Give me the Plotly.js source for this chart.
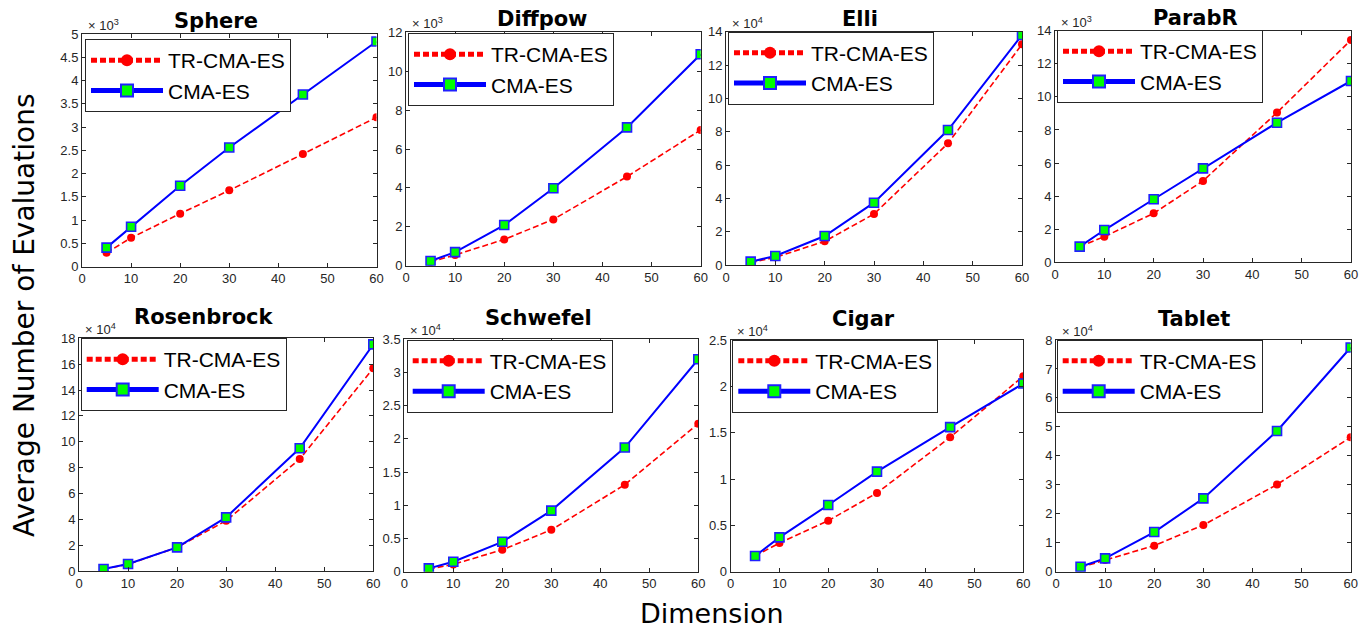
<!DOCTYPE html>
<html><head><meta charset="utf-8">
<script src="https://cdn.plot.ly/plotly-3.0.1.min.js"></script>
<style>html,body{margin:0;padding:0;background:#fff}</style>
</head><body><div id="chart" style="width:1359px;height:628px"></div>
<script>
// ---- data ----
const dims = [5, 10, 20, 30, 45, 60];
const functionNames = ['Sphere', 'Diffpow', 'Elli', 'ParabR', 'Rosenbrock', 'Schwefel', 'Cigar', 'Tablet'];
const seriesNames = ['TR-CMA-ES', 'CMA-ES'];
const scaleExponents = [3, 3, 4, 3, 4, 4, 4, 4];
const sphereTR = [300, 620, 1140, 1640, 2420, 3210];
const sphereCMA = [410, 860, 1740, 2560, 3700, 4840];
const diffpowTR = [200, 550, 1350, 2380, 4580, 6980];
const diffpowCMA = [240, 700, 2090, 3980, 7110, 10870];
const elliTR = [1400, 4600, 14200, 30600, 73000, 132400];
const elliCMA = [2000, 5400, 17400, 37400, 81000, 138000];
const parabrTR = [950, 1550, 2960, 4920, 9050, 13440];
const parabrCMA = [950, 1950, 3810, 5680, 8440, 10960];
const rosenTR = [1500, 5200, 18300, 38900, 86600, 156800];
const rosenCMA = [1500, 5400, 18300, 41500, 94900, 175300];
const schwefelTR = [400, 1100, 3300, 6300, 13100, 22300];
const schwefelCMA = [500, 1500, 4500, 9200, 18700, 32000];
const cigarTR = [1700, 3100, 5500, 8500, 14500, 21100];
const cigarCMA = [1700, 3700, 7200, 10800, 15600, 20300];
const tabletTR = [1500, 4000, 9000, 16100, 30100, 46400];
const tabletCMA = [1700, 4600, 13700, 25300, 48600, 77400];
const yMax = [5, 12, 14, 14, 18, 3.5, 2.5, 8];
const yDtick = [0.5, 2, 2, 2, 2, 0.5, 0.5, 1];
const trSeries = [sphereTR, diffpowTR, elliTR, parabrTR, rosenTR, schwefelTR, cigarTR, tabletTR];
const cmaSeries = [sphereCMA, diffpowCMA, elliCMA, parabrCMA, rosenCMA, schwefelCMA, cigarCMA, tabletCMA];

// ---- layout geometry (pixels) ----
const W = 1359, H = 628;
const panels = [
  [82, 376.5, 34, 266.7], [406, 700.7, 32.3, 265.7], [726, 1022, 31.7, 265], [1055, 1351, 30.7, 262.3],
  [79, 373.3, 338.3, 571], [404.3, 698.3, 339.3, 571.7], [730.7, 1023.3, 340, 571.7], [1056, 1350.7, 340, 571.7]
];
const titleFrac = [0.456, 0.463, 0.453, 0.473, 0.425, 0.457, 0.455, 0.468];
const legendPos = [[85, 39], [408, 33], [728, 31.5], [1057, 30], [80.7, 338], [406.7, 339.7], [732.3, 339.7], [1056.7, 339.7]];
const px2x = p => p / W, px2y = p => 1 - p / H;

const ink = '#262626';
const tickFont = {family: 'Liberation Sans, Arial, sans-serif', size: 13, color: ink};
const traces = [];
const layout = {
  width: W, height: H, margin: {l: 0, r: 0, t: 0, b: 0},
  paper_bgcolor: '#fff', plot_bgcolor: '#fff', showlegend: true,
  annotations: []
};

for (let i = 0; i < 8; i++) {
  const k = i === 0 ? '' : String(i + 1);
  const [x0, x1, y0, y1] = panels[i];
  const scale = Math.pow(10, scaleExponents[i]);
  const legKey = i === 0 ? 'legend' : 'legend' + (i + 1);
  traces.push({
    x: dims, y: trSeries[i].map(v => v / scale), xaxis: 'x' + k, yaxis: 'y' + k,
    name: seriesNames[0], legend: legKey, mode: 'lines+markers',
    line: {color: '#ff0000', width: 1.6, dash: '6px,3px'},
    marker: {symbol: 'circle', size: 8, color: '#ff0000'}
  });
  traces.push({
    x: dims, y: cmaSeries[i].map(v => v / scale), xaxis: 'x' + k, yaxis: 'y' + k,
    name: seriesNames[1], legend: legKey, mode: 'lines+markers',
    line: {color: '#0000ff', width: 2},
    marker: {symbol: 'square', size: 9, color: '#00ff00', line: {color: '#2020ff', width: 1.6}}
  });
  const axCommon = {
    showgrid: false, zeroline: false, showline: true, linecolor: ink, linewidth: 1,
    mirror: 'ticks', ticks: 'inside', ticklen: 4, tickcolor: ink, tickfont: tickFont
  };
  layout['xaxis' + k] = Object.assign({}, axCommon, {
    domain: [px2x(x0), px2x(x1)], range: [0, 60], tick0: 0, dtick: 10, anchor: 'y' + k
  });
  layout['yaxis' + k] = Object.assign({}, axCommon, {
    domain: [px2y(y1), px2y(y0)], range: [0, yMax[i]], tick0: 0, dtick: yDtick[i], anchor: 'x' + k
  });
  layout[legKey] = {
    x: px2x(legendPos[i][0]), y: px2y(legendPos[i][1]), xanchor: 'left', yanchor: 'top',
    bgcolor: '#fff', bordercolor: ink, borderwidth: 1, itemwidth: 72, itemsizing: 'constant',
    tracegroupgap: 0, font: {family: 'Liberation Sans, Arial, sans-serif', size: 21, color: '#000'}
  };
  // panel title
  layout.annotations.push({
    text: functionNames[i], xref: 'x' + k + ' domain', yref: 'y' + k + ' domain',
    x: titleFrac[i], y: 1, xanchor: 'center', yanchor: 'middle', yshift: i < 4 ? 13 : 21, showarrow: false,
    font: {family: 'DejaVu Sans', size: 21, weight: 'bold', color: '#000'}
  });
  // exponent label
  layout.annotations.push({
    text: '× 10<sup>' + scaleExponents[i] + '</sup>', xref: 'x' + k + ' domain', yref: 'y' + k + ' domain',
    x: 0, y: 1, xanchor: 'left', yanchor: 'bottom', xshift: 4, yshift: -1, showarrow: false,
    font: {family: 'Liberation Sans, Arial, sans-serif', size: 13, color: ink}
  });
}
layout.annotations.push({
  text: 'Average Number of Evaluations', xref: 'paper', yref: 'paper',
  x: px2x(24), y: px2y(316), xanchor: 'center', yanchor: 'middle', textangle: -90, showarrow: false,
  font: {family: 'DejaVu Sans', size: 28, color: '#000'}
});
layout.annotations.push({
  text: 'Dimension', xref: 'paper', yref: 'paper', x: px2x(712), y: px2y(613),
  xanchor: 'center', yanchor: 'middle', showarrow: false,
  font: {family: 'DejaVu Sans', size: 27, color: '#000'}
});

Plotly.newPlot('chart', traces, layout, {staticPlot: true, displayModeBar: false});
</script></body></html>
